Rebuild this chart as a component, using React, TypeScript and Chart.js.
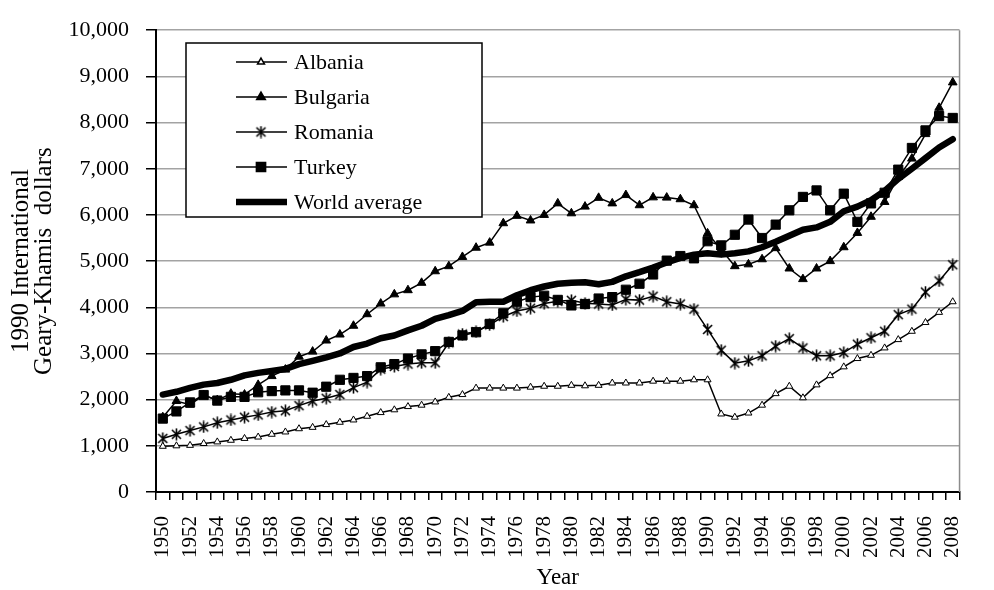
import { useEffect, useRef } from "react";
import { Chart, registerables } from "chart.js";
import { drawPoint } from "chart.js/helpers";

Chart.register(...registerables);

const years = [
  "1950", "1951", "1952", "1953", "1954", "1955", "1956", "1957", "1958", "1959",
  "1960", "1961", "1962", "1963", "1964", "1965", "1966", "1967", "1968", "1969",
  "1970", "1971", "1972", "1973", "1974", "1975", "1976", "1977", "1978", "1979",
  "1980", "1981", "1982", "1983", "1984", "1985", "1986", "1987", "1988", "1989",
  "1990", "1991", "1992", "1993", "1994", "1995", "1996", "1997", "1998", "1999",
  "2000", "2001", "2002", "2003", "2004", "2005", "2006", "2007", "2008",
];

const albania = [
  990, 1000, 1010, 1050, 1085, 1120, 1160, 1190, 1250, 1300,
  1370, 1400, 1460, 1510, 1560, 1640, 1720, 1780, 1850, 1880,
  1950, 2050, 2110, 2250, 2250, 2250, 2250, 2270, 2290, 2290,
  2310, 2300, 2310, 2360, 2360, 2360, 2400, 2400, 2400, 2430,
  2430, 1690, 1620, 1710, 1880, 2130, 2290, 2040, 2320, 2520,
  2710, 2890, 2960, 3120, 3300, 3480, 3670, 3890, 4120,
];

const bulgaria = [
  1620, 1970, 1890, 2100, 1990, 2130, 2110, 2320, 2510, 2650,
  2930, 3040, 3280, 3410, 3600, 3850, 4080, 4280, 4370, 4530,
  4780, 4890, 5090, 5290, 5400, 5820, 5980, 5880, 6000, 6250,
  6035, 6180, 6370, 6250, 6430, 6210, 6380, 6375, 6340, 6210,
  5600, 5250, 4890, 4930, 5040, 5280, 4840, 4610, 4840, 5000,
  5300, 5610, 5960, 6280, 6820, 7220, 7750, 8320, 8870,
];

const romania = [
  1160, 1250, 1330, 1410, 1500, 1560, 1620, 1670, 1730, 1760,
  1870, 1970, 2030, 2110, 2260, 2380, 2660, 2720, 2770, 2800,
  2800, 3230, 3420, 3470, 3620, 3800, 3920, 3980, 4080, 4130,
  4150, 4085, 4070, 4050, 4170, 4155, 4240, 4120, 4070, 3960,
  3520, 3070, 2790, 2840, 2950, 3160, 3320, 3120, 2950, 2950,
  3020, 3200, 3340, 3480, 3840, 3960, 4330, 4570, 4920,
];

const turkey = [
  1590, 1745, 1940, 2100, 1980, 2060, 2060, 2160, 2185, 2200,
  2200, 2150, 2280, 2430, 2470, 2510, 2700, 2770, 2890, 2980,
  3050, 3250, 3390, 3460, 3640, 3870, 4120, 4220, 4250, 4160,
  4040, 4070, 4190, 4220, 4380, 4510, 4710, 5010, 5110, 5060,
  5430, 5340, 5570, 5900, 5500, 5790, 6100, 6390, 6530, 6100,
  6460, 5850, 6250, 6480, 6980, 7450, 7830, 8140, 8100,
];

const worldAverage = [
  2110, 2170, 2255, 2325, 2360, 2430, 2525, 2580, 2620, 2665,
  2770, 2840, 2915, 3000, 3140, 3215, 3330, 3390, 3500, 3600,
  3750, 3830, 3920, 4110, 4120, 4120, 4260, 4370, 4450, 4510,
  4530, 4540, 4500, 4550, 4670, 4760, 4860, 4970, 5070, 5140,
  5170, 5140, 5170, 5210, 5300, 5420, 5550, 5680, 5730, 5850,
  6080, 6180, 6320, 6520, 6780, 7000, 7230, 7460, 7640,
];

const yTitle = ["1990 International", "Geary-Khamis  dollars"];
const xTitle = "Year";

const FONT = "'Liberation Serif', 'DejaVu Serif', serif";

// asterisk marker (x with a vertical bar), like the Excel one
function makeAsterisk() {
  const c = document.createElement("canvas");
  c.width = 13;
  c.height = 13;
  const g = c.getContext("2d")!;
  g.strokeStyle = "#000";
  g.lineWidth = 1.6;
  g.beginPath();
  g.moveTo(2, 2);
  g.lineTo(11, 11);
  g.moveTo(11, 2);
  g.lineTo(2, 11);
  g.moveTo(6.5, 0.5);
  g.lineTo(6.5, 12.5);
  g.stroke();
  return c;
}

const boxLegend = {
  id: "boxLegend",
  afterDraw(chart: any) {
    const ctx = chart.ctx;
    const x0 = 186;
    const y0 = 43;
    ctx.save();
    ctx.fillStyle = "#fff";
    ctx.strokeStyle = "#000";
    ctx.lineWidth = 1.5;
    ctx.fillRect(x0, y0, 296, 174);
    ctx.strokeRect(x0, y0, 296, 174);
    chart.data.datasets.forEach((ds: any, i: number) => {
      const y = 62 + i * 35;
      ctx.strokeStyle = "#000";
      ctx.lineWidth = ds.borderWidth;
      ctx.beginPath();
      ctx.moveTo(236, y);
      ctx.lineTo(287, y);
      ctx.stroke();
      if (ds.pointRadius > 0) {
        ctx.fillStyle = ds.pointBackgroundColor;
        ctx.strokeStyle = "#000";
        drawPoint(
          ctx,
          { pointStyle: ds.pointStyle, radius: ds.pointRadius, borderWidth: ds.pointBorderWidth, rotation: 0 },
          261,
          y
        );
      }
      ctx.fillStyle = "#000";
      ctx.font = `22px ${FONT}`;
      ctx.textBaseline = "middle";
      ctx.textAlign = "left";
      ctx.fillText(ds.label, 294, y + 1);
    });
    ctx.restore();
  },
};

const rightBorder = {
  id: "rightBorder",
  beforeDatasetsDraw(chart: any) {
    const { ctx, chartArea } = chart;
    ctx.save();
    ctx.strokeStyle = "#8c8c8c";
    ctx.lineWidth = 1.5;
    ctx.beginPath();
    ctx.moveTo(chartArea.right, chartArea.top);
    ctx.lineTo(chartArea.right, chartArea.bottom);
    ctx.stroke();
    ctx.restore();
  },
};

export default function App() {
  const canvasRef = useRef<HTMLCanvasElement>(null);

  useEffect(() => {
    if (!canvasRef.current) return;
    const asterisk = makeAsterisk();

    const line = (label: string, data: number[], extra: any) => ({
      label,
      data,
      borderColor: "#000",
      borderWidth: 1.5,
      pointBorderColor: "#000",
      pointBorderWidth: 1,
      tension: 0,
      ...extra,
    });

    const chart = new Chart(canvasRef.current, {
      type: "line",
      data: {
        labels: years,
        datasets: [
          line("Albania", albania, {
            pointStyle: "triangle",
            pointRadius: 4,
            pointBackgroundColor: "#fff",
          }),
          line("Bulgaria", bulgaria, {
            pointStyle: "triangle",
            pointRadius: 5,
            pointBackgroundColor: "#000",
          }),
          line("Romania", romania, {
            pointStyle: asterisk,
            pointRadius: 6,
            pointBackgroundColor: "#000",
          }),
          line("Turkey", turkey, {
            pointStyle: "rect",
            pointRadius: 6.5,
            pointBackgroundColor: "#000",
          }),
          line("World average", worldAverage, {
            borderWidth: 6.5,
            pointRadius: 0,
            pointBackgroundColor: "#000",
            borderCapStyle: "round",
            borderJoinStyle: "round",
          }),
        ],
      },
      options: {
        responsive: false,
        animation: false,
        layout: { padding: { top: 20, right: 3, left: 0, bottom: 0 } },
        plugins: {
          legend: { display: false },
          tooltip: { enabled: false },
        },
        scales: {
          x: {
            offset: true,
            afterFit: (scale: any) => {
              scale.height = 98;
            },
            border: { color: "#000", width: 2 },
            grid: {
              offset: true,
              drawOnChartArea: false,
              drawTicks: true,
              tickLength: 8,
              tickColor: "#000",
              lineWidth: 1.5,
            },
            ticks: {
              autoSkip: false,
              minRotation: 90,
              maxRotation: 90,
              padding: 16,
              color: "#000",
              font: { family: FONT, size: 21 },
              callback: (_v: any, i: number) => (i % 2 === 0 ? years[i] : ""),
            },
            title: {
              display: true,
              text: xTitle,
              color: "#000",
              font: { family: FONT, size: 23, lineHeight: 1 },
              padding: { top: 0, bottom: 1 },
            },
          },
          y: {
            min: 0,
            max: 10000,
            afterFit: (scale: any) => {
              scale.width = 156;
            },
            border: { color: "#000", width: 2 },
            grid: {
              color: "#a3a3a3",
              lineWidth: 1.5,
              tickLength: 10,
              tickColor: "#000",
            },
            ticks: {
              stepSize: 1000,
              padding: 17,
              color: "#000",
              font: { family: FONT, size: 22 },
              callback: (v: any) => Number(v).toLocaleString("en-US"),
            },
            title: {
              display: true,
              text: yTitle,
              color: "#000",
              font: { family: FONT, size: 25, lineHeight: 0.92 },
              padding: { top: 10, bottom: 0 },
            },
          },
        },
      },
      plugins: [rightBorder, boxLegend],
    });

    return () => {
      chart.destroy();
    };
  }, []);

  return (
    <div style={{ position: "absolute", left: 0, top: 0, width: 994, height: 590, background: "#fff" }}>
      <canvas ref={canvasRef} width={994} height={590} style={{ display: "block" }} />
    </div>
  );
}
